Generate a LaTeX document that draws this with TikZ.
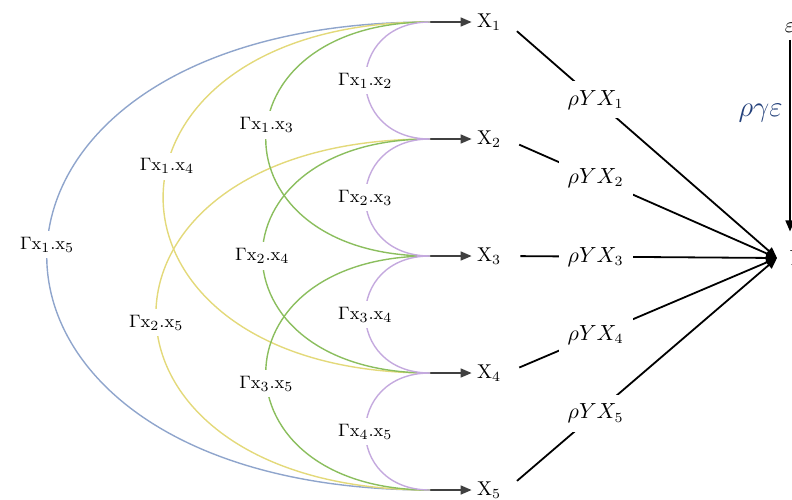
\documentclass[tikz,border=0pt]{standalone}
\usepackage{amsmath}
\usepackage{tikz}
\usetikzlibrary{arrows.meta}
\definecolor{Lav}{HTML}{C4A9DE}
\definecolor{Leaf}{HTML}{8BBE5E}
\definecolor{Straw}{HTML}{E3D97A}
\definecolor{Steel}{HTML}{8FA5CC}
\definecolor{Navy}{HTML}{23407A}

\begin{document}
\begin{tikzpicture}[x=0.5pt,y=-0.5pt,
    var/.style={inner xsep=2.5pt,inner ysep=2pt,font=\fontsize{10}{12}\selectfont},
    gam/.style={fill=white,inner sep=3pt,font=\fontsize{9.5}{11}\selectfont},
    cor/.style={fill=white,inner sep=4.5pt,font=\fontsize{10.5}{12}\selectfont},
    arr/.style={-{Triangle[length=5.5pt,width=4.5pt]}},
    link/.style={line width=0.7pt}
  ]
    \useasboundingbox (0,0) rectangle (792,499);
    \foreach \k/\y in {1/22,2/139,3/256,4/373,5/490}{
      \coordinate (e\k) at (430,\y);
      \node[var] (X\k) at (489,\y) {$\mathrm{X}_{\k}$};
      \draw[arr,black!75,line width=0.8pt] (e\k)--(X\k);
    }
    \foreach \a/\b/\col/\lo/\p in {1/5/Steel/2.8/0.484,1/4/Straw/2.6/0.44,
        2/5/Straw/2.67/0.516,1/3/Leaf/2.4/0.46,2/4/Leaf/2.45/0.5,3/5/Leaf/2.4/0.53,
        1/2/Lav/1.89/0.5,2/3/Lav/1.89/0.5,3/4/Lav/1.89/0.5,4/5/Lav/1.89/0.5}
      \draw[link,\col] (e\a) to[out=180,in=180,looseness=\lo]
        node[gam,pos=\p,text=black] {$\Gamma\mathrm{x}_{\a}.\mathrm{x}_{\b}$} (e\b);

    \node[anchor=west,inner xsep=6pt,font=\fontsize{10.5}{12}\selectfont] (Y) at (777,258) {$Y$};
    \node[font=\fontsize{10.5}{12}\selectfont] (E) at (790,28) {$\varepsilon$};
    \draw[arr,line width=0.8pt,shorten >=6pt] (E)--node[left,pos=0.36,text=Navy,
      font=\fontsize{15}{18}\selectfont] {$\rho\gamma\varepsilon$} (E |- Y.north);
    \foreach \k in {1,...,5}
      \draw[arr,line width=0.9pt,shorten <=7pt] (X\k.east)--node[cor,pos=0.33]
        {$\rho YX_{\k}$} (Y.west);
  \end{tikzpicture}
\end{document}
